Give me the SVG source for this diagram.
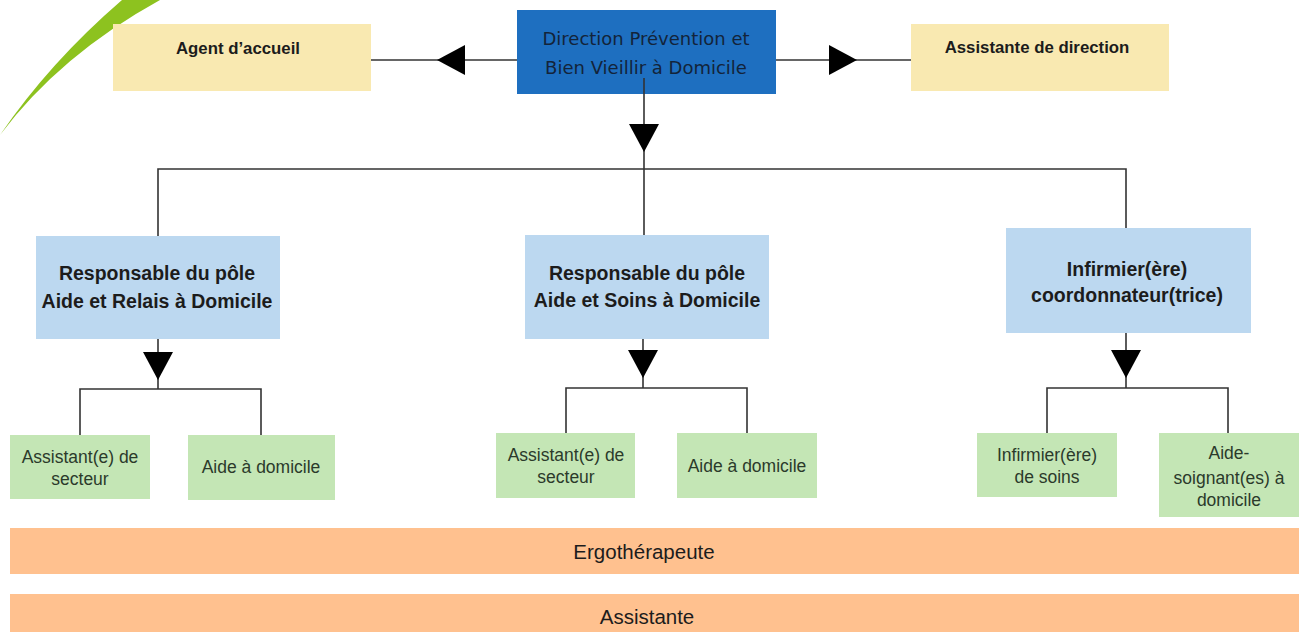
<svg xmlns="http://www.w3.org/2000/svg" width="1299" height="632" viewBox="0 0 1299 632">
<style>
.t{font-family:"Liberation Sans",Arial,sans-serif;text-anchor:middle;fill:#1c1c1c}
.yl{fill:#f9e9b1}
.bl{fill:#bcd8f0}
.gr{fill:#c4e6b5}
.or{fill:#ffc18f}
.b14{font-size:16.8px;font-weight:bold}
.b17{font-size:19.5px;font-weight:bold}
.r15{font-size:17.5px;fill:#2b3a2b}
.r17{font-family:"DejaVu Sans",sans-serif;font-size:18px;fill:#13243a}
.r20{font-size:20.5px}
.ln{stroke:#333;stroke-width:1.6;fill:none}
</style>
<defs>
<marker id="ah" viewBox="0 0 28 30" refX="28" refY="15" markerWidth="28" markerHeight="30" markerUnits="userSpaceOnUse" orient="auto">
<path d="M0,0 L28,15 L0,30 Z" fill="#000"/>
</marker>
</defs>
<path d="M160,0 Q60,55 0,135 Q50,62 122,0 Z" fill="#8dc21f"/>
<g id="direction">
<rect x="517" y="10" width="259" height="84" fill="#1e6fc0"/>
<text class="t r17" x="646" y="44.5">Direction Prévention et</text>
<text class="t r17" x="646" y="73.5">Bien Vieillir à Domicile</text>
</g>
<g id="agent">
<rect class="yl" x="113" y="24" width="258" height="67"/>
<text class="t b14" x="238" y="54">Agent d’accueil</text>
</g>
<g id="assistante-direction">
<rect class="yl" x="911" y="24" width="258" height="67"/>
<text class="t b14" x="1037" y="53">Assistante de direction</text>
</g>
<g id="resp-relais">
<rect class="bl" x="36" y="236" width="244" height="103"/>
<text class="t b17" x="157" y="280">Responsable du pôle</text>
<text class="t b17" x="157" y="308">Aide et Relais à Domicile</text>
</g>
<g id="resp-soins">
<rect class="bl" x="525" y="235" width="244" height="104"/>
<text class="t b17" x="647" y="280">Responsable du pôle</text>
<text class="t b17" x="647" y="307">Aide et Soins à Domicile</text>
</g>
<g id="infirmier-coord">
<rect class="bl" x="1006" y="228" width="245" height="105"/>
<text class="t b17" x="1127" y="276">Infirmier(ère)</text>
<text class="t b17" x="1127" y="302">coordonnateur(trice)</text>
</g>
<g id="assistant-secteur-1">
<rect class="gr" x="10" y="435" width="140" height="64"/>
<text class="t r15" x="80" y="463">Assistant(e) de</text>
<text class="t r15" x="80" y="485">secteur</text>
</g>
<g id="aide-domicile-1">
<rect class="gr" x="188" y="435" width="147" height="65"/>
<text class="t r15" x="261" y="473">Aide à domicile</text>
</g>
<g id="assistant-secteur-2">
<rect class="gr" x="496" y="433" width="139" height="65"/>
<text class="t r15" x="566" y="461">Assistant(e) de</text>
<text class="t r15" x="566" y="483">secteur</text>
</g>
<g id="aide-domicile-2">
<rect class="gr" x="677" y="433" width="140" height="65"/>
<text class="t r15" x="747" y="472">Aide à domicile</text>
</g>
<g id="infirmier-soins">
<rect class="gr" x="977" y="433" width="140" height="64"/>
<text class="t r15" x="1047" y="461">Infirmier(ère)</text>
<text class="t r15" x="1047" y="483">de soins</text>
</g>
<g id="aide-soignant">
<rect class="gr" x="1159" y="433" width="140" height="84"/>
<text class="t r15" x="1229" y="459">Aide-</text>
<text class="t r15" x="1229" y="484">soignant(es) à</text>
<text class="t r15" x="1229" y="506">domicile</text>
</g>
<g id="ergotherapeute">
<rect class="or" x="10" y="528" width="1289" height="46"/>
<text class="t r20" x="644" y="559">Ergothérapeute</text>
</g>
<g id="assistante">
<rect class="or" x="10" y="594" width="1289" height="38"/>
<text class="t r20" x="647" y="624">Assistante</text>
</g>
<g id="connectors">
<path class="ln" d="M517,60 L437,60" marker-end="url(#ah)"/>
<path class="ln" d="M437,60 L371,60"/>
<path class="ln" d="M776,60 L857,60" marker-end="url(#ah)"/>
<path class="ln" d="M857,60 L911,60"/>
<path class="ln" d="M644,78 L644,152" marker-end="url(#ah)"/>
<path class="ln" d="M644,152 L644,235"/>
<path class="ln" d="M158,236 L158,169 L1126,169 L1126,228"/>
<path class="ln" d="M158,339 L158,380" marker-end="url(#ah)"/>
<path class="ln" d="M80,435 L80,389 L261,389 L261,435 M158,380 L158,389"/>
<path class="ln" d="M643,339 L643,378" marker-end="url(#ah)"/>
<path class="ln" d="M566,433 L566,388 L747,388 L747,433 M643,378 L643,388"/>
<path class="ln" d="M1126,333 L1126,378" marker-end="url(#ah)"/>
<path class="ln" d="M1047,433 L1047,388 L1228,388 L1228,433 M1126,378 L1126,388"/>
</g>
</svg>
